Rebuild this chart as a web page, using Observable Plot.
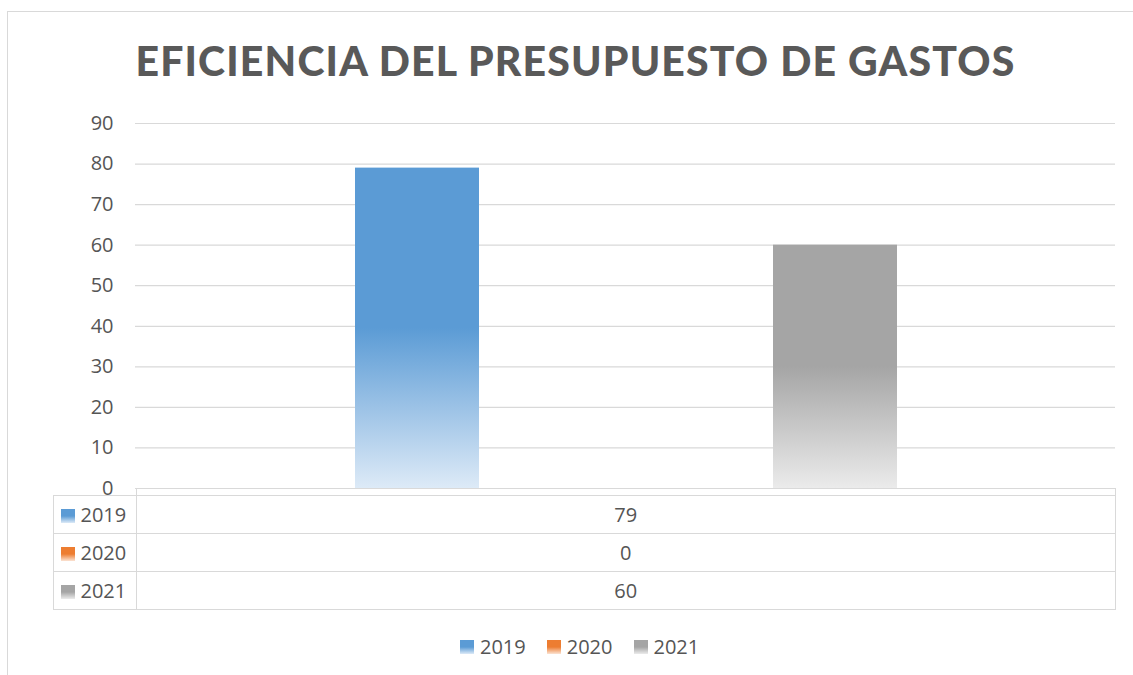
<!DOCTYPE html>
<html>
<head>
<meta charset="utf-8">
<script src="https://cdn.jsdelivr.net/npm/d3@7"></script>
<script src="https://cdn.jsdelivr.net/npm/@observablehq/plot@0.6"></script>
<style>
  html, body { margin: 0; padding: 0; background: #fff; overflow: hidden; }
  #page { position: relative; width: 1133px; height: 675px; overflow: hidden; font-family: "Open Sans", sans-serif; color: #595959; }
  #frame { position: absolute; left: 7px; top: 11px; width: 1160px; height: 700px; border: 1.5px solid #d9d9d9; box-sizing: border-box; }
  #titlesvg { position: absolute; left: 0; top: 0; }
  #chart { position: absolute; left: 0; top: 100px; }
  #axisrow { position: absolute; left: 135.5px; top: 487.5px; width: 980px; height: 8px; border: 1.5px solid #d9d9d9; border-bottom: none; box-sizing: border-box; }
  #datatable { position: absolute; left: 52.5px; top: 494.5px; border-collapse: collapse; table-layout: fixed; width: 1063px; }
  #datatable td { border: 1.5px solid #d9d9d9; height: 38.3px; padding: 0; font-size: 20px; color: #555; box-sizing: border-box; }
  #datatable td.key { width: 83.5px; padding-left: 7px; white-space: nowrap; }
  #datatable td.val { text-align: center; }
  .sw { display: inline-block; width: 14px; height: 14px; margin-right: 6px; vertical-align: -1px; }
  #legend { position: absolute; left: 460px; top: 633px; display: flex; font-size: 20px; color: #555; line-height: 28px; }
  #legend .item { display: flex; align-items: center; margin-right: 21px; }
</style>
</head>
<body>
<div id="page">
  <div id="frame"></div>
  <svg id="titlesvg" width="1133" height="100">
    <text id="title" x="575.5" y="76" text-anchor="middle" font-family="Lato, 'Open Sans', sans-serif" font-weight="900" font-size="41" fill="#595959">EFICIENCIA DEL PRESUPUESTO DE GASTOS</text>
  </svg>
  <div id="chart"></div>
  <div id="axisrow"></div>
  <table id="datatable"></table>
  <div id="legend"></div>
</div>
<script>
// ---- data ----
const categories = ["2019", "2020", "2021"];
const values = [79, 0, 60];
const yTicks = [0, 10, 20, 30, 40, 50, 60, 70, 80, 90];
// ---- palette (top colour, faded bottom colour) ----
const topColors = ["#5B9BD5", "#ED7D31", "#A5A5A5"];
const bottomColors = ["#DDEAF7", "#FBE3D3", "#EBEBEB"];

const data = categories.map((c, i) => ({year: c, value: values[i]}));

// fit title width to reference span
const title = document.getElementById("title");
const tw = title.getComputedTextLength();
const target = 879;
title.setAttribute("letter-spacing", ((target - tw) / (title.textContent.length - 1)).toFixed(2));

const defs = () => {
  const ns = "http://www.w3.org/2000/svg";
  const d = document.createElementNS(ns, "defs");
  categories.forEach((c, i) => {
    const g = document.createElementNS(ns, "linearGradient");
    g.setAttribute("id", "grad-" + c);
    g.setAttribute("x1", "0"); g.setAttribute("y1", "0");
    g.setAttribute("x2", "0"); g.setAttribute("y2", "1");
    [[0, topColors[i]], [0.5, topColors[i]], [1, bottomColors[i]]].forEach(([o, col]) => {
      const s = document.createElementNS(ns, "stop");
      s.setAttribute("offset", o);
      s.setAttribute("stop-color", col);
      g.appendChild(s);
    });
    d.appendChild(g);
  });
  return d;
};

const plot = Plot.plot({
  width: 1133,
  height: 400,
  marginLeft: 135,
  marginRight: 18,
  marginTop: 23,
  marginBottom: 12,
  style: {fontFamily: "'Open Sans', sans-serif", fontSize: "20px", color: "#555", background: "transparent", overflow: "visible"},
  x: {domain: categories, paddingInner: 0.408, paddingOuter: 1.043, align: 0.503, axis: null},
  y: {domain: [0, 90], ticks: yTicks, tickSize: 0, tickPadding: 22, label: null, tickFormat: d => String(d)},
  marks: [
    defs,
    Plot.ruleY(yTicks, {stroke: "#d9d9d9", strokeWidth: 1.2}),
    ...categories.map(c => Plot.barY(data.filter(d => d.year === c), {x: "year", y: "value", fill: `url(#grad-${c})`}))
  ]
});
document.getElementById("chart").appendChild(plot);

const swatch = i => `<span class="sw" style="background: linear-gradient(to bottom, ${topColors[i]} 0%, ${topColors[i]} 50%, ${bottomColors[i]} 100%)"></span>`;

document.getElementById("datatable").innerHTML = categories.map((c, i) =>
  `<tr><td class="key">${swatch(i)}${c}</td><td class="val">${values[i]}</td></tr>`).join("");

document.getElementById("legend").innerHTML = categories.map((c, i) =>
  `<div class="item">${swatch(i)}<span>${c}</span></div>`).join("");
</script>
</body>
</html>
